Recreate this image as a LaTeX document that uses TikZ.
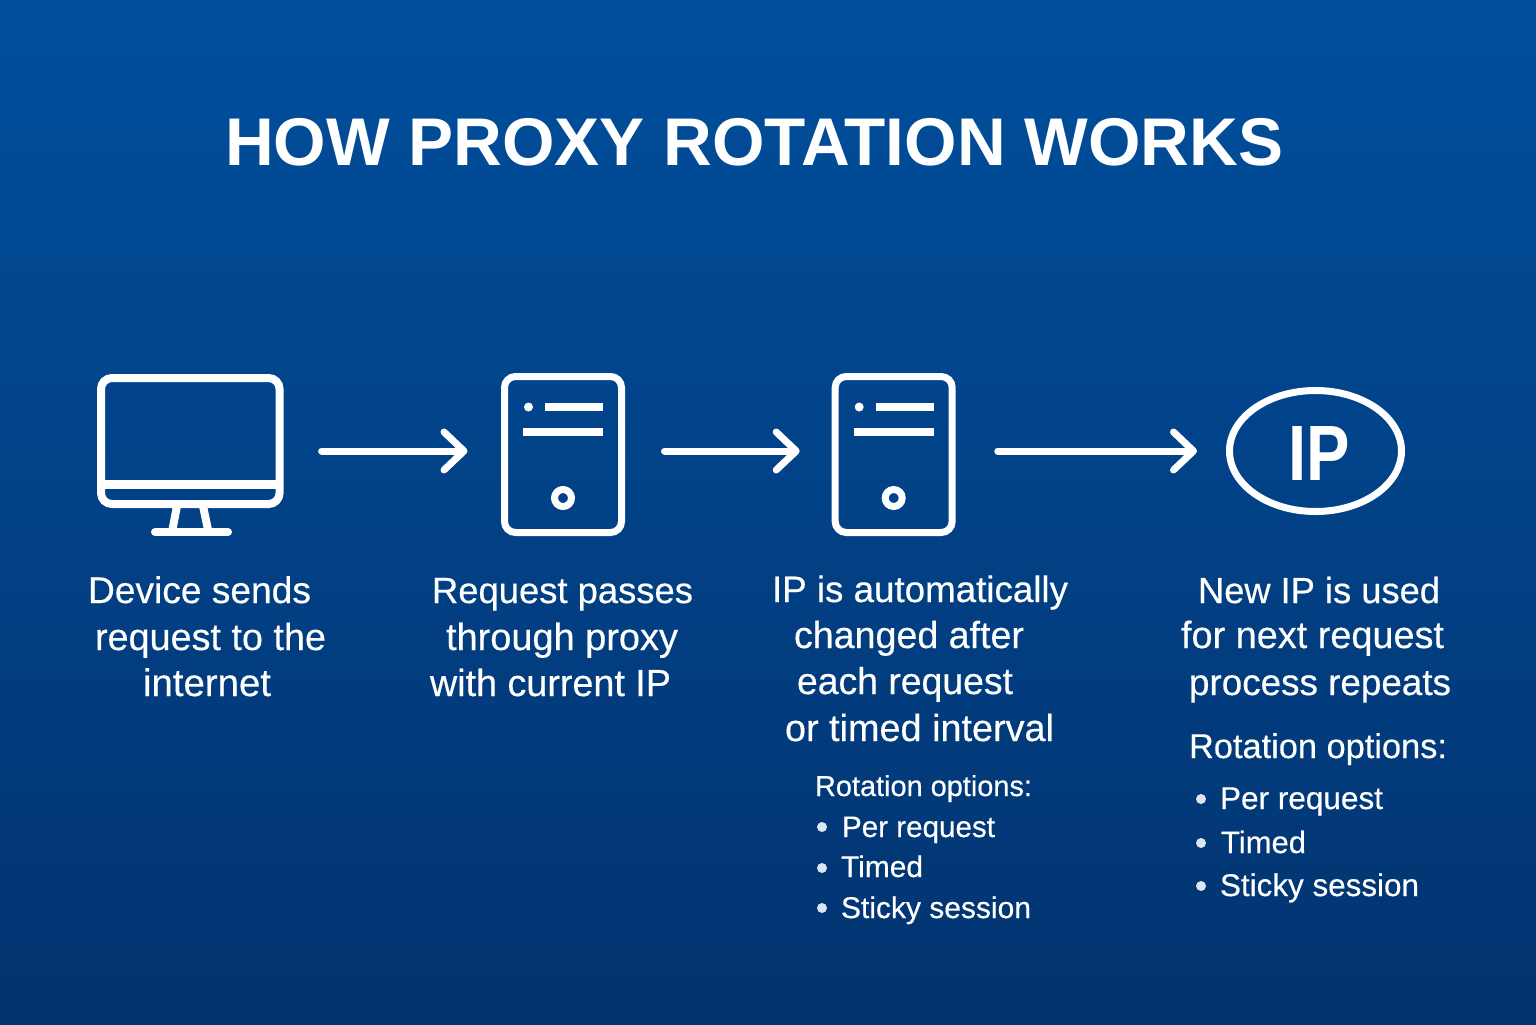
\documentclass[tikz,border=0pt]{standalone}
\usepackage{fontspec}
\usepackage{graphicx}
\setmainfont[FakeBold=0.4]{Liberation Sans}
\newfontfamily\headf{Liberation Sans Bold}
\usetikzlibrary{arrows.meta,shapes.geometric}
\definecolor{bgtop}{HTML}{014F9D}
\definecolor{bgbot}{HTML}{02336F}
\definecolor{bulletc}{HTML}{DDE6F0}
\tikzset{
  ink/.style={draw=white,line width=3.5pt},
  heavy/.style={draw=white,line width=4pt},
  bar/.style={draw=white,line width=4pt},
  monbox/.style={heavy,rectangle,rounded corners=5.5pt,minimum width=89.3pt,minimum height=63pt,inner sep=0pt,outer sep=0pt},
  srvbox/.style={ink,rectangle,rounded corners=5.5pt,minimum width=58.5pt,minimum height=78pt,inner sep=0pt,outer sep=0pt},
  ipbox/.style={ink,ellipse,minimum width=86pt,minimum height=60.5pt,inner sep=0pt,outer sep=0pt},
  flow/.style={draw=white,line width=3.5pt,line cap=round,-{Straight Barb[length=10pt,width=19pt,round]}},
  txt/.style={text=white,inner sep=0pt,outer sep=0pt,anchor=base west},
  bull/.style={circle,fill=bulletc,inner sep=0pt,minimum size=5pt},
  srvdetail/.pic={
    \fill[white] (-34.5,-47.5) circle[radius=4.5];
    \draw[bar] (-18,-47.5) -- (40,-47.5);
    \draw[bar] (-40,-22.5) -- (40,-22.5);
    \draw[white,line width=3.5pt] (0,43.5) circle[radius=8.5];
  }
}
% name, left x, baseline y, width (px), text
\newcommand{\tline}[5]{\pgfmathsetlengthmacro{\tlw}{#4*0.5}\node[txt] (#1) at (#2,#3) {\resizebox{\tlw}{!}{#5}};}
\begin{document}
\begin{tikzpicture}[x=0.5pt,y=-0.5pt]
\useasboundingbox (0,0) rectangle (1536,1024);
\shade[top color=bgtop,bottom color=bgbot] (0,0) rectangle (1536,1024);

\tline{title}{225}{165}{1058}{\headf HOW PROXY ROTATION WORKS}

% monitor
\node[monbox] (mon) at (190.3,441) {};
\draw[draw=white,line width=4.5pt] (mon.west |- 0,484) -- (mon.east |- 0,484);
\draw[heavy] (177,506) -- (172,532);
\draw[heavy] (203,506) -- (208.5,532);
\draw[bar,line cap=round] (155,532) -- (228,532);

% servers
\node[srvbox] (srvA) at (563,454.5) {};
\pic at (srvA.center) {srvdetail};
\node[srvbox] (srvB) at (893.7,454.5) {};
\pic at (srvB.center) {srvdetail};

% ip
\node[ipbox] (ip) at (1315.5,451) {};
\node[txt] (iptext) at (1288.6,480.7) {\resizebox{30.75pt}{27pt}{\headf IP}};

% connectors
\draw[flow,shorten <=21pt,shorten >=18.5pt] ([yshift=-5pt]mon.east) -- ([yshift=1.75pt]srvA.west);
\draw[flow,shorten <=21.5pt,shorten >=17.75pt] ([yshift=1.75pt]srvA.east) -- ([yshift=1.75pt]srvB.west);
\draw[flow,shorten <=22.75pt,shorten >=16.25pt] ([yshift=1.75pt]srvB.east) -- (ip.west);

% column 1
\tline{a1}{88}{603}{223}{Device sends}
\tline{a2}{95}{650}{231}{request to the}
\tline{a3}{143}{696}{128}{internet}
% column 2
\tline{b1}{432}{603}{261}{Request passes}
\tline{b2}{446}{650}{232}{through proxy}
\tline{b3}{430}{696}{241}{with current IP}
% column 3
\tline{c1}{772}{602}{296}{IP is automatically}
\tline{c2}{794}{648}{230}{changed after}
\tline{c3}{797}{694}{216}{each request}
\tline{c4}{785}{741}{269}{or timed interval}
\tline{c5}{815}{796}{217}{Rotation options:}
\node[bull] (cb1) at (822,827) {};
\tline{c6}{842}{837}{153}{Per request}
\node[bull] (cb2) at (822,868) {};
\tline{c7}{841}{877}{82}{Timed}
\node[bull] (cb3) at (822,908) {};
\tline{c8}{841}{918}{190}{Sticky session}
% column 4
\tline{d1}{1198}{603}{242}{New IP is used}
\tline{d2}{1181}{648}{263}{for next request}
\tline{d3}{1189}{695}{262}{process repeats}
\tline{d4}{1189}{758}{258}{Rotation options:}
\node[bull] (db1) at (1201,799) {};
\tline{d5}{1220}{809}{163}{Per request}
\node[bull] (db2) at (1201,843) {};
\tline{d6}{1221}{853}{85}{Timed}
\node[bull] (db3) at (1201,886) {};
\tline{d7}{1220}{896}{199}{Sticky session}
\end{tikzpicture}
\end{document}
